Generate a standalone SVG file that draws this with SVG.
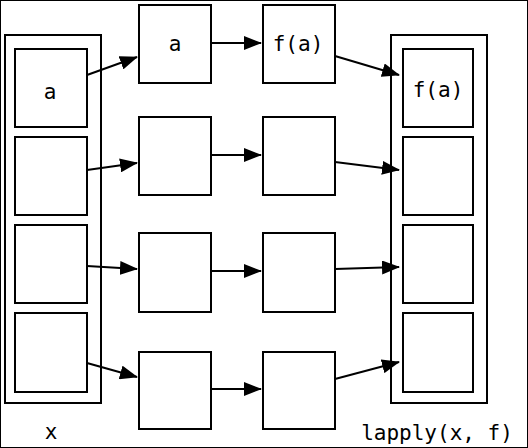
<svg xmlns="http://www.w3.org/2000/svg" width="528" height="448" viewBox="0 0 528 448">
<defs>
<style>
rect{fill:#fff;stroke:#000;stroke-width:2}
.c line{stroke:#000;stroke-width:2}
text{font-family:"DejaVu Sans Mono","Liberation Mono",monospace;font-size:21px;fill:#000;text-anchor:middle}
</style>
<marker id="ah" markerWidth="18" markerHeight="14" refX="17" refY="7" orient="auto" markerUnits="userSpaceOnUse">
<path d="M0,0 L18,7 L0,14 Z" fill="#000"/>
</marker>
</defs>
<rect width="528" height="448" fill="#fff" stroke="none"/>
<g id="x">
<rect x="5" y="35" width="96" height="368"/>
<rect x="15" y="49" width="72" height="78"/>
<rect x="15" y="137" width="72" height="78"/>
<rect x="15" y="225" width="72" height="78"/>
<rect x="15" y="313" width="72" height="79"/>
<text x="50" y="99">a</text>
<text x="51" y="439">x</text>
</g>
<g id="m1">
<rect x="139" y="5" width="72" height="78"/>
<rect x="139" y="117" width="72" height="78"/>
<rect x="139" y="233" width="72" height="79"/>
<rect x="139" y="352" width="72" height="77"/>
<text x="175" y="51">a</text>
</g>
<g id="m2">
<rect x="263" y="5" width="72" height="78"/>
<rect x="263" y="117" width="72" height="78"/>
<rect x="263" y="233" width="72" height="79"/>
<rect x="263" y="352" width="72" height="77"/>
<text x="298" y="51">f(a)</text>
</g>
<g id="out">
<rect x="391" y="35" width="96" height="368"/>
<rect x="403" y="49" width="70" height="78"/>
<rect x="403" y="137" width="70" height="78"/>
<rect x="403" y="225" width="70" height="78"/>
<rect x="403" y="313" width="70" height="79"/>
<text x="438" y="97">f(a)</text>
<text x="437" y="440">lapply(x, f)</text>
</g>
<g class="c">
<line x1="87" y1="75" x2="137" y2="57" marker-end="url(#ah)"/>
<line x1="87" y1="170" x2="137" y2="163" marker-end="url(#ah)"/>
<line x1="87" y1="266" x2="137" y2="269" marker-end="url(#ah)"/>
<line x1="87" y1="363" x2="137" y2="377" marker-end="url(#ah)"/>
<line x1="211" y1="43" x2="261" y2="43" marker-end="url(#ah)"/>
<line x1="211" y1="155" x2="261" y2="155" marker-end="url(#ah)"/>
<line x1="211" y1="271" x2="261" y2="271" marker-end="url(#ah)"/>
<line x1="211" y1="389" x2="261" y2="389" marker-end="url(#ah)"/>
<line x1="335" y1="56" x2="399" y2="75" marker-end="url(#ah)"/>
<line x1="335" y1="162" x2="399" y2="170" marker-end="url(#ah)"/>
<line x1="335" y1="269" x2="399" y2="267" marker-end="url(#ah)"/>
<line x1="335" y1="379" x2="399" y2="362" marker-end="url(#ah)"/>
</g>
</svg>
